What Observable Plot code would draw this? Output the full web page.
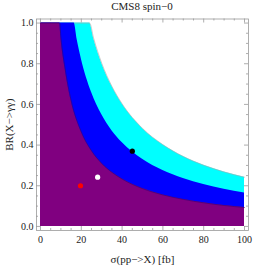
<!DOCTYPE html>
<html><head><meta charset="utf-8">
<script src="https://cdn.jsdelivr.net/npm/d3@7"></script>
<script src="https://cdn.jsdelivr.net/npm/@observablehq/plot@0.6"></script>
<style>
body{margin:0;background:#fff;}
#title{width:266px;height:14px;line-height:14px;font:11px "Liberation Serif",serif;text-align:center;padding-left:18px;box-sizing:border-box;color:#222;}
#chart svg, #chart svg text{font-family:"Liberation Serif",serif !important;}
</style></head><body>
<div id="title">CMS8 spin−0</div>
<div id="chart"></div>
<script>
// Exclusion boundaries
const purpleSigma = [0, 9.4, 10, 12, 15, 20, 25, 30, 35, 40, 50, 60, 70, 80, 90, 100];
const purpleBR    = [1, 1, 0.93, 0.78, 0.62, 0.465, 0.372, 0.31, 0.266, 0.233, 0.186, 0.155, 0.133, 0.116, 0.103, 0.093];
const blueSigma   = [0, 16.5, 18, 20, 25, 30, 35, 40, 50, 60, 70, 80, 90, 100];
const blueBR      = [1, 1, 0.917, 0.825, 0.66, 0.55, 0.471, 0.4125, 0.33, 0.275, 0.236, 0.206, 0.183, 0.165];
const cyanSigma   = [0, 24.1, 26, 30, 35, 40, 50, 60, 70, 80, 90, 100];
const cyanBR      = [1, 1, 0.927, 0.803, 0.689, 0.603, 0.482, 0.402, 0.344, 0.301, 0.268, 0.242];

// Benchmark points
const pointSigma = [19.6, 28, 45];
const pointBR    = [0.20, 0.242, 0.37];
const pointColor = ["#ff0000", "#ffffff", "#000000"];

// Ticks
const xMajor = [0, 20, 40, 60, 80, 100];
const xMinor = [5, 10, 15, 25, 30, 35, 45, 50, 55, 65, 70, 75, 85, 90, 95];
const yMajor = [0, 0.2, 0.4, 0.6, 0.8, 1.0];
const yMinor = [0.05, 0.1, 0.15, 0.25, 0.3, 0.35, 0.45, 0.5, 0.55, 0.65, 0.7, 0.75, 0.85, 0.9, 0.95];

const xLabel = "σ(pp−>X) [fb]";
const yLabel = "BR(X−>γγ)";

const toRows = (xs, ys) => xs.map((x, i) => ({x, y: Math.min(1, ys[i])}));
const purple = toRows(purpleSigma, purpleBR);
const blue = toRows(blueSigma, blueBR);
const cyan = toRows(cyanSigma, cyanBR);
const points = pointSigma.map((x, i) => ({x, y: pointBR[i], c: pointColor[i]}));

const xDom = [-1.96, 101.96];
const yDom = [-0.02, 1.02];
const W = 266, H = 252, mL = 36, mR = 18, mT = 4.5, mB = 36;
const pxX = (xDom[1] - xDom[0]) / (W - mL - mR);
const pxY = (yDom[1] - yDom[0]) / (H - mT - mB);
const majL = 4, minL = 2;
const tc = "#999";

const vTicks = (vals, len) => [
  Plot.ruleX(vals, {x: d => d, y1: yDom[0], y2: yDom[0] + len * pxY, stroke: tc, strokeWidth: 0.8}),
  Plot.ruleX(vals, {x: d => d, y1: yDom[1], y2: yDom[1] - len * pxY, stroke: tc, strokeWidth: 0.8})
];
const hTicks = (vals, len) => [
  Plot.ruleY(vals, {y: d => d, x1: xDom[0], x2: xDom[0] + len * pxX, stroke: tc, strokeWidth: 0.8}),
  Plot.ruleY(vals, {y: d => d, x1: xDom[1], x2: xDom[1] - len * pxX, stroke: tc, strokeWidth: 0.8})
];

const chart = Plot.plot({
  width: W, height: H,
  marginLeft: mL, marginRight: mR, marginTop: mT, marginBottom: mB,
  style: {fontFamily: "'Liberation Serif', serif", fontSize: "10px", color: "#222", background: "#fff"},
  x: {domain: xDom},
  y: {domain: yDom},
  marks: [
    Plot.areaY(cyan, {x: "x", y1: 0, y2: "y", fill: "#00ffff", curve: "monotone-x"}),
    Plot.lineY(cyan, {x: "x", y: "y", stroke: "#aaa", strokeWidth: 0.6, curve: "monotone-x"}),
    Plot.areaY(blue, {x: "x", y1: 0, y2: "y", fill: "#0000ff", curve: "monotone-x"}),
    Plot.areaY(purple, {x: "x", y1: 0, y2: "y", fill: "#800080", curve: "monotone-x"}),
    Plot.lineY(purple, {x: "x", y: "y", stroke: "#3a0070", strokeWidth: 0.6, curve: "monotone-x"}),
    Plot.dot(points, {x: "x", y: "y", r: 2.6, fill: "c", stroke: null}),
    Plot.frame({stroke: tc, strokeWidth: 0.8}),
    ...vTicks(xMajor, majL), ...vTicks(xMinor, minL),
    ...hTicks(yMajor, majL), ...hTicks(yMinor, minL),
    Plot.axisX({anchor: "bottom", ticks: xMajor, tickSize: 0, tickPadding: 5, label: null}),
    Plot.axisY({anchor: "left", ticks: yMajor, tickSize: 0, tickPadding: 3, tickFormat: d3.format(".1f"), label: null}),
    Plot.text([xLabel], {frameAnchor: "bottom", dy: 29, lineAnchor: "middle", fontSize: 11}),
    Plot.text([yLabel], {frameAnchor: "left", dx: -27, rotate: -90, textAnchor: "middle", lineAnchor: "middle", fontSize: 11})
  ]
});
document.getElementById("chart").appendChild(chart);
</script>
</body></html>
